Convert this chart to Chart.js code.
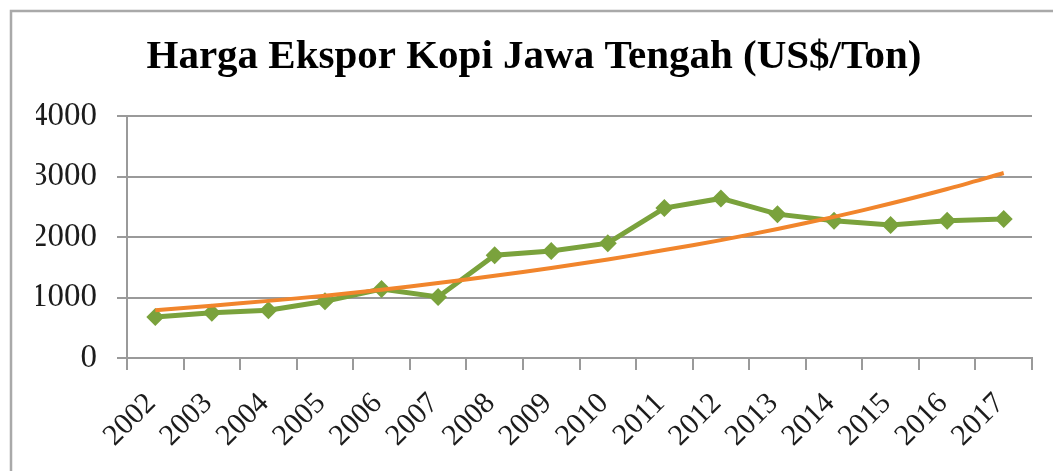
<!DOCTYPE html>
<html>
<head>
<meta charset="utf-8">
<script src="https://cdn.jsdelivr.net/npm/chart.js@4/dist/chart.umd.min.js"></script>
<style>
  html, body { margin: 0; padding: 0; background: #ffffff; }
  #wrap { position: relative; width: 1053px; height: 471px; overflow: hidden; }
</style>
</head>
<body>
<div id="wrap"><canvas id="c"></canvas></div>
<script>
const chartTitle = 'Harga Ekspor Kopi Jawa Tengah (US$/Ton)';
const years = ['2002','2003','2004','2005','2006','2007','2008','2009','2010','2011','2012','2013','2014','2015','2016','2017'];
const exportPrice = [680, 750, 790, 940, 1140, 1010, 1700, 1770, 1900, 2480, 2640, 2380, 2270, 2200, 2270, 2300];
const trendPrice = [790, 865, 945, 1030, 1130, 1240, 1360, 1490, 1630, 1785, 1950, 2135, 2335, 2555, 2795, 3060];
const yTicks = [0, 1000, 2000, 3000, 4000];

const GREEN = '#7aa23c';
const ORANGE = '#f1852c';
const GRID = '#9a9a9a';
const TEXT = '#1c1c1c';
const SERIF = "'Liberation Serif', 'Times New Roman', serif";

const frame = {
  id: 'frame',
  beforeDraw(chart) {
    const ctx = chart.ctx;
    ctx.save();
    ctx.fillStyle = '#ffffff';
    ctx.fillRect(0, 0, chart.width, chart.height);
    ctx.strokeStyle = '#a9a9a9';
    ctx.lineWidth = 2.5;
    ctx.beginPath();
    ctx.moveTo(11, chart.height);
    ctx.lineTo(11, 11);
    ctx.lineTo(chart.width, 11);
    ctx.stroke();
    ctx.restore();
  }
};

new Chart(document.getElementById('c'), {
  type: 'line',
  data: {
    labels: years,
    datasets: [
      {
        label: 'Harga Ekspor',
        data: exportPrice,
        borderColor: GREEN,
        backgroundColor: GREEN,
        borderWidth: 5,
        pointStyle: 'rectRot',
        pointRadius: 9,
        pointBorderWidth: 0,
        pointBackgroundColor: GREEN,
        tension: 0,
        order: 1
      },
      {
        label: 'Trend',
        data: trendPrice,
        borderColor: ORANGE,
        backgroundColor: ORANGE,
        borderWidth: 4,
        pointRadius: 0,
        tension: 0.3,
        order: 0
      }
    ]
  },
  options: {
    responsive: true,
    maintainAspectRatio: false,
    animation: false,
    layout: { padding: { left: 36, right: 21, top: 0, bottom: 0 } },
    plugins: {
      legend: { display: false },
      tooltip: { enabled: false },
      title: {
        display: true,
        text: chartTitle,
        color: '#000000',
        font: { family: SERIF, size: 41, weight: 'bold', lineHeight: 1.2 },
        padding: { top: 33, bottom: 34 }
      }
    },
    scales: {
      x: {
        offset: true,
        grid: {
          display: true,
          drawOnChartArea: false,
          drawTicks: true,
          offset: true,
          tickLength: 12,
          tickColor: GRID,
          lineWidth: 2
        },
        border: { display: true, color: GRID, width: 2 },
        ticks: {
          autoSkip: false,
          maxRotation: 45,
          minRotation: 45,
          labelOffset: -4,
          padding: 16,
          color: TEXT,
          font: { family: SERIF, size: 30 }
        },
        afterFit(scale) { scale.height = 113; }
      },
      y: {
        min: 0,
        max: 4000,
        afterBuildTicks(scale) { scale.ticks = yTicks.map(v => ({ value: v })); },
        grid: {
          color: GRID,
          lineWidth: 2,
          drawTicks: true,
          tickLength: 10,
          tickColor: GRID
        },
        border: { display: true, color: GRID, width: 2 },
        ticks: {
          padding: 20,
          color: TEXT,
          font: { family: SERIF, size: 33 },
          callback: (v) => String(v)
        },
        afterFit(scale) { scale.width = 91; }
      }
    }
  },
  plugins: [frame]
});
</script>
</body>
</html>
